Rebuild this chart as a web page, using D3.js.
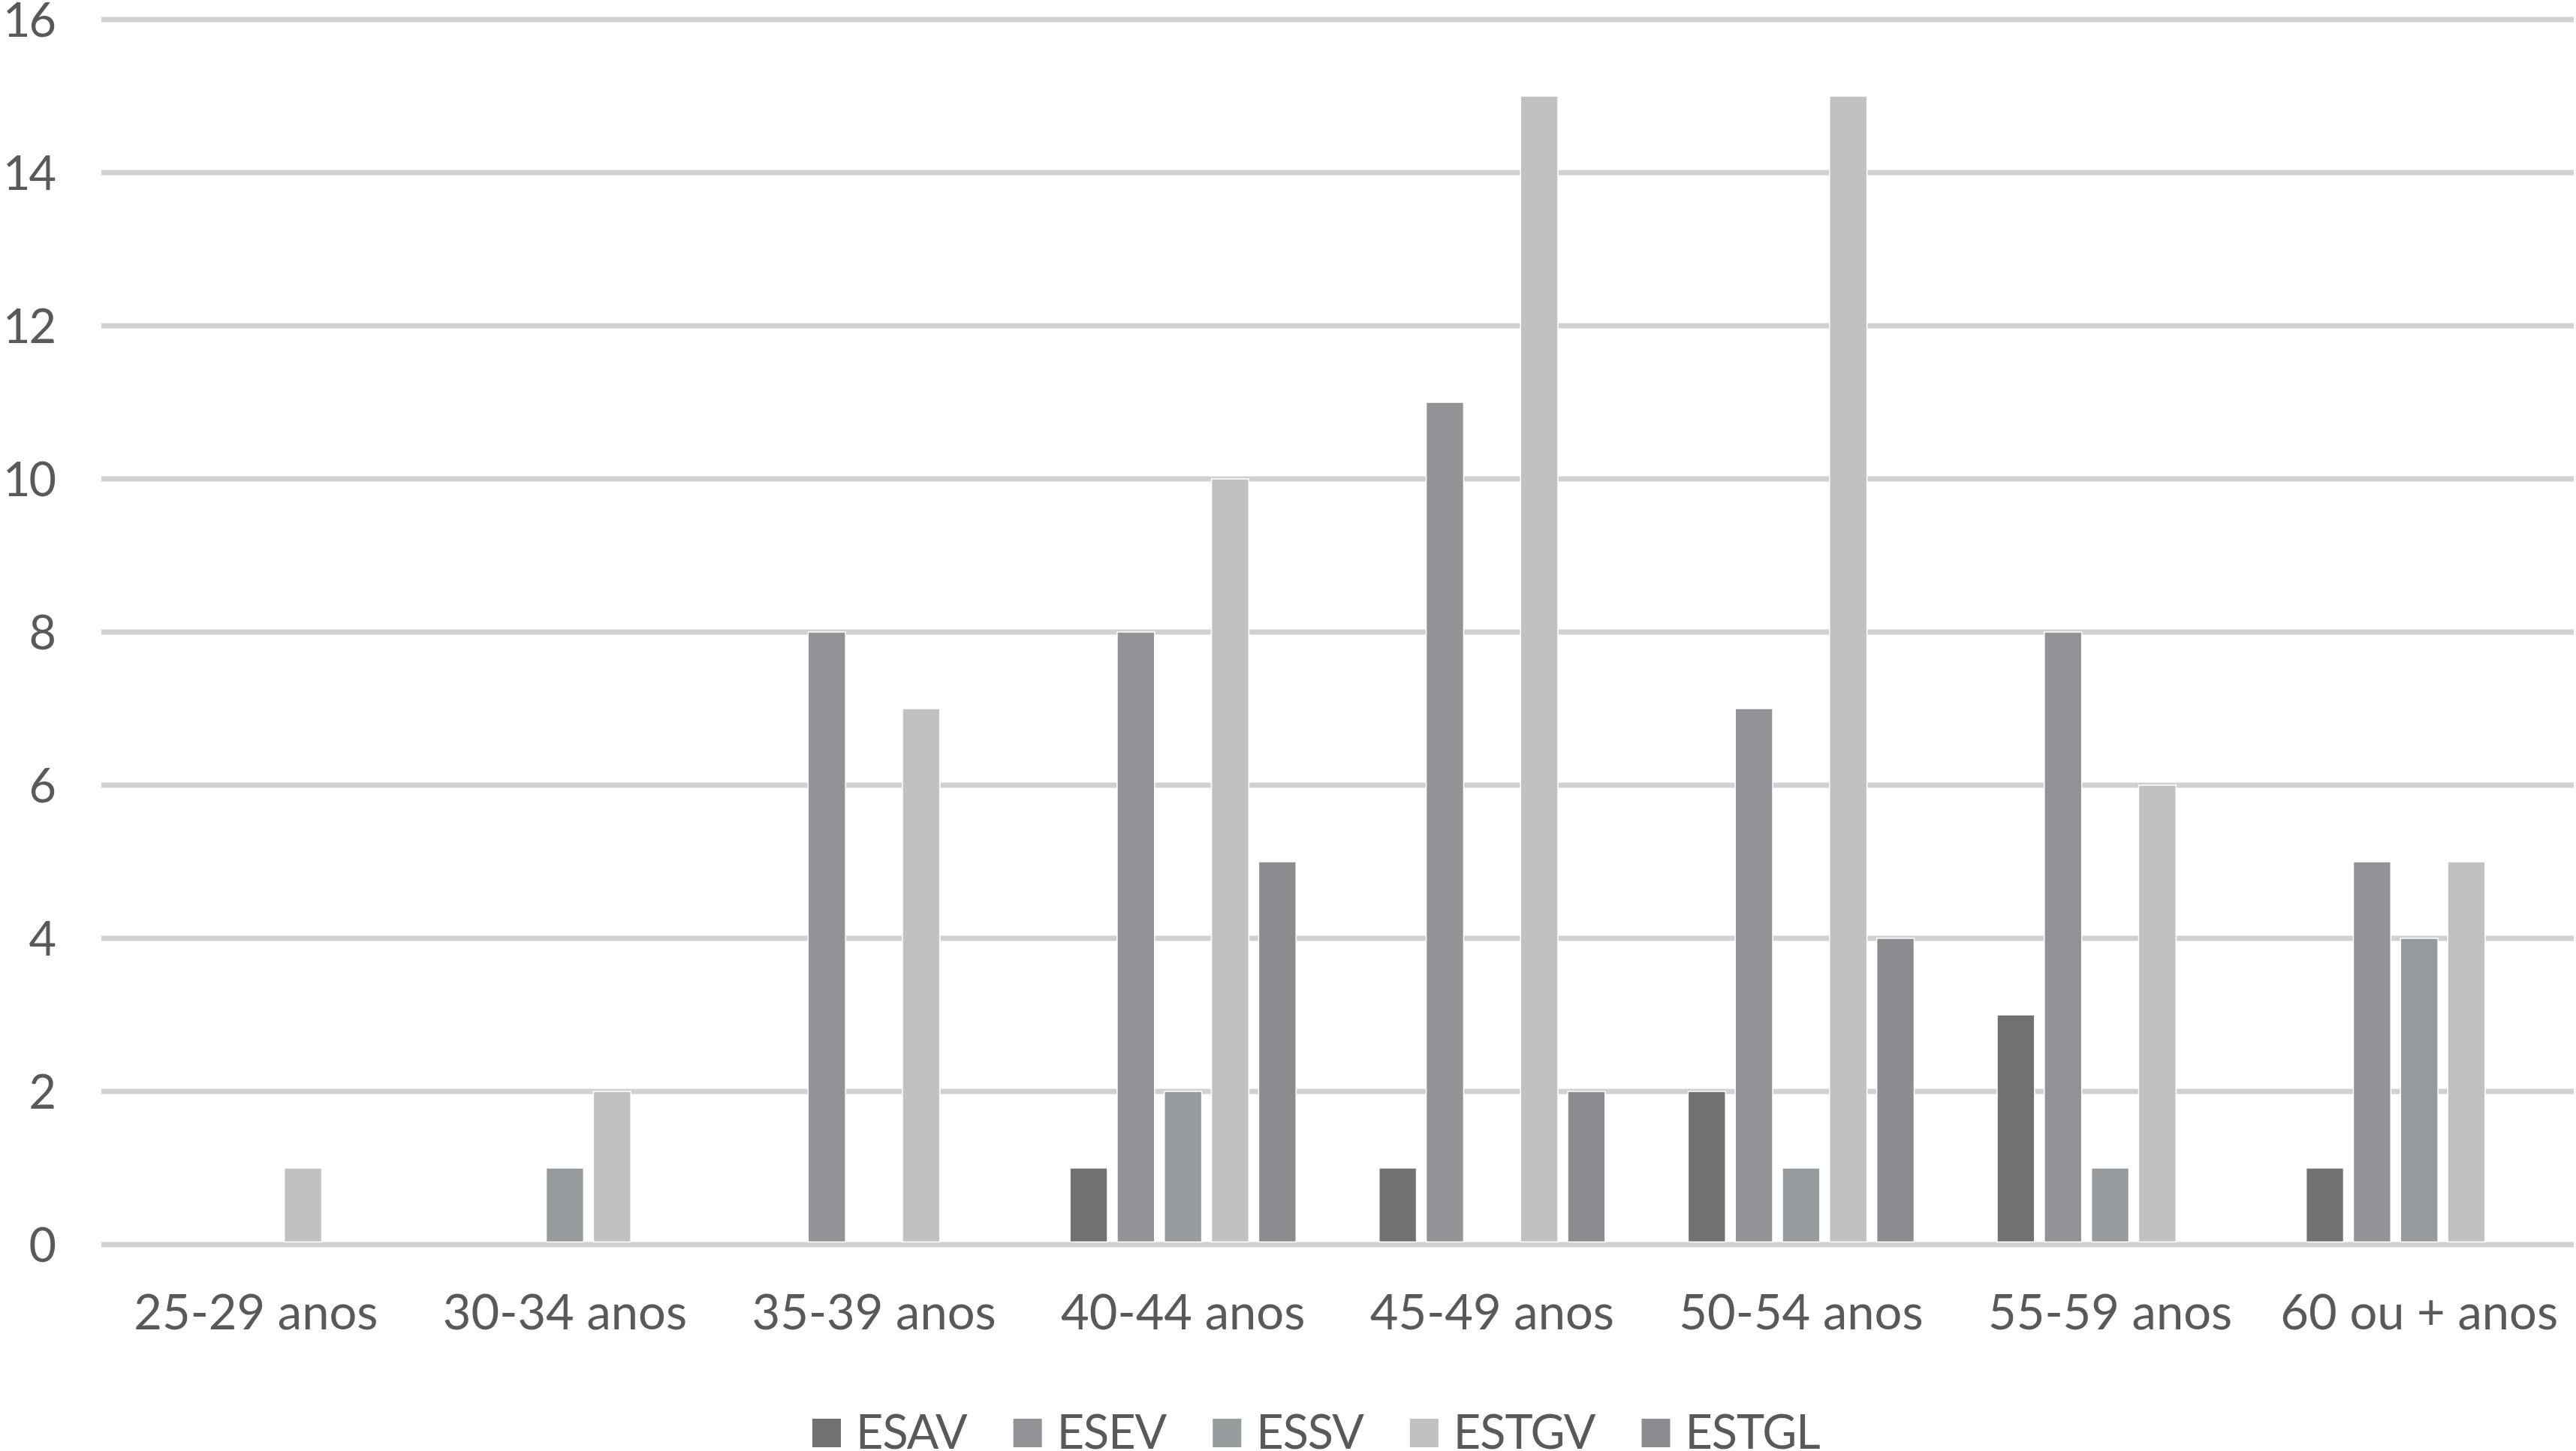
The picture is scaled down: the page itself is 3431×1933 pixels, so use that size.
<!DOCTYPE html>
<html>
<head>
<meta charset="utf-8">
<script src="https://cdn.jsdelivr.net/npm/d3@7"></script>
<style>
  html, body { margin: 0; padding: 0; background: #ffffff; }
  svg { display: block; }
  text { font-family: Lato, "Open Sans", sans-serif; fill: #595959; }
</style>
</head>
<body>
<svg id="chart" width="3431" height="1933"></svg>
<script>
const categories = ["25-29 anos", "30-34 anos", "35-39 anos", "40-44 anos", "45-49 anos", "50-54 anos", "55-59 anos", "60 ou + anos"];
const seriesNames = ["ESAV", "ESEV", "ESSV", "ESTGV", "ESTGL"];
const ESAV  = [0, 0, 0, 1, 1, 2, 3, 1];
const ESEV  = [0, 0, 8, 8, 11, 7, 8, 5];
const ESSV  = [0, 1, 0, 2, 0, 1, 1, 4];
const ESTGV = [1, 2, 7, 10, 15, 15, 6, 5];
const ESTGL = [0, 0, 0, 5, 2, 4, 0, 0];
const yTicks = [0, 2, 4, 6, 8, 10, 12, 14, 16];
const seriesColors = ["#707173", "#929396", "#989B9E", "#C0C1C3", "#8B8C90"];

const seriesValues = [ESAV, ESEV, ESSV, ESTGV, ESTGL];
const data = categories.map((c, i) => ({
  cat: c,
  vals: seriesNames.map((s, j) => ({ key: s, value: seriesValues[j][i] }))
}));

const svg = d3.select("#chart");
const plot = { left: 135, right: 3428, top: 26, bottom: 1658 };

const x0 = d3.scaleBand().domain(categories).range([plot.left, plot.right]).padding(0);
const step = x0.bandwidth();
const gap = step * 0.237;
const x1 = d3.scaleBand().domain(seriesNames).range([gap / 2, step - gap / 2]).padding(0);
const y = d3.scaleLinear().domain([0, 16]).range([plot.bottom, plot.top]);
const color = d3.scaleOrdinal().domain(seriesNames).range(seriesColors);
const inset = 6.5;

// gridlines
svg.append("g")
  .selectAll("line")
  .data(yTicks)
  .join("line")
  .attr("x1", plot.left).attr("x2", plot.right)
  .attr("y1", d => y(d)).attr("y2", d => y(d))
  .attr("stroke", "#D0D1D3")
  .attr("stroke-width", 7);

// y axis labels
const yAxis = d3.axisLeft(y).tickValues(yTicks).tickSize(0).tickPadding(0);
const yg = svg.append("g").attr("transform", `translate(73,0)`).call(yAxis);
yg.select(".domain").remove();
yg.selectAll("text")
  .attr("font-size", 63)
  .attr("letter-spacing", -2)
  .attr("font-family", "Lato, 'Open Sans', sans-serif")
  .attr("fill", "#595959")
  .attr("dy", "0.36em");

// bars
svg.append("g")
  .selectAll("g")
  .data(data)
  .join("g")
  .attr("transform", d => `translate(${x0(d.cat)},0)`)
  .selectAll("rect")
  .data(d => d.vals.filter(v => v.value > 0))
  .join("rect")
  .attr("x", d => x1(d.key) + inset)
  .attr("width", x1.bandwidth() - 2 * inset)
  .attr("y", d => y(d.value))
  .attr("height", d => y(0) - y(d.value) - 3.5)
  .attr("fill", d => color(d.key))
  .attr("stroke", "#ffffff")
  .attr("stroke-width", 1.5);

// x axis labels
const xAxis = d3.axisBottom(x0).tickSize(0).tickPadding(0);
const xg = svg.append("g").attr("transform", `translate(0,1771)`).call(xAxis);
xg.select(".domain").remove();
xg.selectAll("text")
  .attr("font-size", 65)
  .attr("font-family", "Lato, 'Open Sans', sans-serif")
  .attr("fill", "#595959")
  .attr("dy", 0)
  .attr("y", 0);

// legend
const legend = svg.append("g").attr("class", "legend");
let lx = 1082;
seriesNames.forEach((s, i) => {
  legend.append("rect")
    .attr("x", lx).attr("y", 1890)
    .attr("width", 38).attr("height", 38)
    .attr("fill", color(s));
  const t = legend.append("text")
    .attr("x", lx + 58).attr("y", 1930)
    .attr("font-size", 63)
    .attr("letter-spacing", -1)
    .text(s);
  const w = t.node().getComputedTextLength();
  lx = lx + 58 + w + 62;
});
</script>
</body>
</html>
